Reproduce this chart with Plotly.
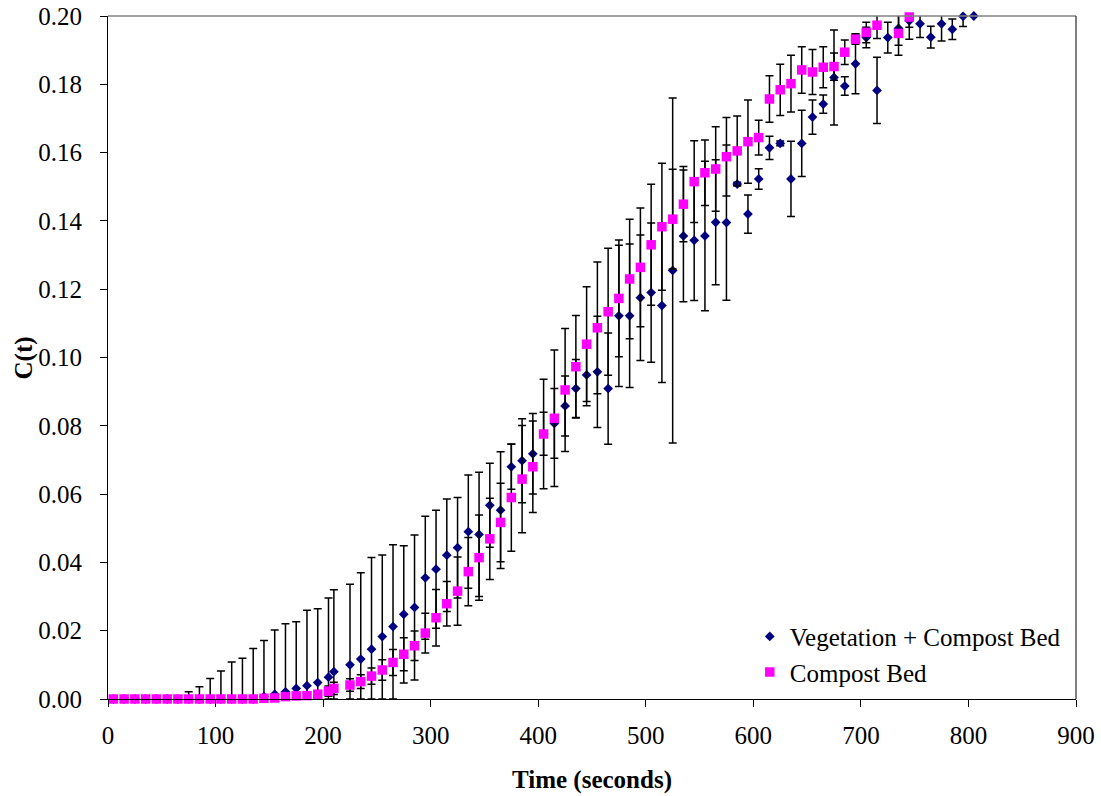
import plotly.graph_objects as go

# ---------------- data ----------------
time_s = [5, 15, 25, 35, 45, 55, 65, 75, 85, 95, 105, 115, 125, 135, 145, 155, 165, 175, 185, 195,
          205, 210, 225, 235, 245, 255, 265, 275, 285, 295, 305, 315, 325, 335, 345, 355, 365, 375,
          385, 395, 405, 415, 425, 435, 445, 455, 465, 475, 485, 495, 505, 515, 525, 535, 545, 555,
          565, 575, 585, 595, 605, 615, 625, 635, 645, 655, 665, 675, 685, 695, 705, 715, 725, 735,
          745, 755, 765, 775, 785, 795, 805]

veg_c = [0, 0, 0, 0, 0, 0, 0, 0, 0, 0, 0, 0, 0, 0, 0.0007, 0.0014, 0.0021, 0.0031, 0.0039, 0.0048,
         0.0064, 0.0080, 0.0100, 0.0117, 0.0146, 0.0183, 0.0212, 0.0248, 0.0268, 0.0355, 0.0380,
         0.0421, 0.0443, 0.0490, 0.0482, 0.0567, 0.0553, 0.0680, 0.0698, 0.0718, 0.0777, 0.0807,
         0.0858, 0.0909, 0.0949, 0.0958, 0.0909, 0.1122, 0.1122, 0.1175, 0.1190, 0.1152, 0.1255,
         0.1356, 0.1343, 0.1356, 0.1396, 0.1395, 0.1508, 0.1420, 0.1523, 0.1614, 0.1627, 0.1523,
         0.1627, 0.1704, 0.1742, 0.1820, 0.1795, 0.1860, 0.1937, 0.1782, 0.1937, 0.1964, 0.1986,
         0.1977, 0.1938, 0.1977, 0.1961, 0.1999, 0.2000]

veg_err = [0, 0, 0, 0, 0, 0, 0, 0.0021, 0.0036, 0.0060, 0.0082, 0.0108, 0.0119, 0.0148, 0.0164,
           0.0188, 0.0199, 0.0195, 0.0221, 0.0216, 0.0232, 0.0240, 0.0236, 0.0253, 0.0268, 0.0239,
           0.0240, 0.0201, 0.0212, 0.0180, 0.0173, 0.0165, 0.0147, 0.0166, 0.0182, 0.0123, 0.0171,
           0.0066, 0.0123, 0.0118, 0.0063, 0.0102, 0.0088, 0.0085, 0.0090, 0.0163, 0.0163, 0.0207,
           0.0210, 0.0184, 0.0204, 0.0225, 0.0505, 0.0193, 0.0176, 0.0219, 0.0183, 0.0227, 0.0005,
           0.0056, 0.0030, 0.0034, 0.0007, 0.0110, 0.0097, 0.0050, 0.0027, 0.0139, 0.0027, 0.0088,
           0.0030, 0.0097, 0.0045, 0.0050, 0.0054, 0.0040, 0.0032, 0.0050, 0.0030, 0.0030, 0]

compost_c = [0, 0, 0, 0, 0, 0, 0, 0, 0, 0, 0, 0, 0, 0, 0.0002, 0.0003, 0.0007, 0.0009, 0.0010,
             0.0014, 0.0023, 0.0031, 0.0041, 0.0051, 0.0067, 0.0085, 0.0107, 0.0131, 0.0156, 0.0193,
             0.0238, 0.0279, 0.0316, 0.0373, 0.0414, 0.0469, 0.0517, 0.0590, 0.0644, 0.0680, 0.0776,
             0.0822, 0.0905, 0.0973, 0.1039, 0.1087, 0.1134, 0.1173, 0.1230, 0.1264, 0.1330, 0.1383,
             0.1405, 0.1449, 0.1515, 0.1541, 0.1552, 0.1588, 0.1605, 0.1632, 0.1644, 0.1757, 0.1784,
             0.1802, 0.1842, 0.1836, 0.1850, 0.1852, 0.1894, 0.1932, 0.1952, 0.1973, None, 0.1949,
             0.1997, None, None, None, None, None, None]

compost_err = [0, 0, 0, 0, 0, 0, 0, 0, 0, 0, 0, 0, 0, 0, 0.0003, 0.0004, 0.0005, 0.0006, 0.0008,
               0.0010, 0.0015, 0.0018, 0.0018, 0.0020, 0.0024, 0.0030, 0.0038, 0.0048, 0.0043,
               0.0058, 0.0083, 0.0065, 0.0100, 0.0100, 0.0125, 0.0119, 0.0115, 0.0157, 0.0157,
               0.0134, 0.0160, 0.0200, 0.0180, 0.0150, 0.0168, 0.0193, 0.0186, 0.0171, 0.0175,
               0.0174, 0.0177, 0.0186, 0.0146, 0.0110, 0.0120, 0.0096, 0.0124, 0.0115, 0.0102,
               0.0122, 0.0051, 0.0068, 0.0075, 0.0083, 0.0068, 0.0066, 0.0060, 0.0040, 0.0036,
               0.0015, 0.0030, 0.0039, None, 0.0064, 0.0030, None, None, None, None, None, None]

x_ticks = [0, 100, 200, 300, 400, 500, 600, 700, 800, 900]
y_ticks = [0.00, 0.02, 0.04, 0.06, 0.08, 0.10, 0.12, 0.14, 0.16, 0.18, 0.20]


def lower(vals, errs):
    # error bars are cut at the x axis, as in the original chart
    out = []
    for v, e in zip(vals, errs):
        if v is None or e is None:
            out.append(None)
        else:
            out.append(min(e, v))
    return out


FONT = "Times New Roman, Liberation Serif, DejaVu Serif, serif"
FS = 25

fig = go.Figure()
fig.add_trace(go.Scatter(
    x=time_s, y=veg_c, mode="markers", name="Vegetation + Compost Bed",
    legendgroup="a",
    marker=dict(symbol="diamond", size=7.5, color="#000080", line=dict(width=0)),
    error_y=dict(type="data", symmetric=False, array=veg_err,
                 arrayminus=lower(veg_c, veg_err),
                 color="black", thickness=1.5, width=4),
    cliponaxis=False,
))
fig.add_trace(go.Scatter(
    x=time_s, y=compost_c, mode="markers", name="Compost Bed",
    legendgroup="b",
    marker=dict(symbol="square", size=9.5, color="#FF00FF", line=dict(width=0)),
    error_y=dict(type="data", symmetric=False, array=compost_err,
                 arrayminus=lower(compost_c, compost_err),
                 color="black", thickness=1.5, width=4),
    cliponaxis=False,
))

fig.update_layout(
    width=1101, height=796,
    margin=dict(l=108, r=25, t=16, b=97, autoexpand=False),
    paper_bgcolor="white", plot_bgcolor="white",
    font=dict(family=FONT, size=FS, color="black"),
    showlegend=True,
    legend=dict(x=0.663, y=0.125, xanchor="left", yanchor="top",
                bgcolor="rgba(0,0,0,0)", borderwidth=0,
                font=dict(family=FONT, size=FS, color="black"),
                traceorder="grouped", tracegroupgap=0),
    xaxis=dict(range=[0, 900], tickvals=x_ticks, ticktext=[str(v) for v in x_ticks],
               ticks="outside", ticklen=7, tickwidth=1, tickcolor="black",
               ticklabelstandoff=7, ticklabeloverflow="allow",
               showline=True, linecolor="black", linewidth=1,
               showgrid=False, zeroline=False, automargin=False,
               title=dict(text="<b>Time (seconds)</b>", font=dict(family=FONT, size=FS),
                          standoff=22)),
    yaxis=dict(range=[0, 0.2], tickvals=y_ticks, ticktext=["%.2f" % v for v in y_ticks],
               ticks="outside", ticklen=7, tickwidth=1, tickcolor="black",
               ticklabelstandoff=13, ticklabeloverflow="allow",
               showline=True, linecolor="black", linewidth=1,
               showgrid=False, zeroline=False, automargin=False),
    annotations=[
        dict(text="<b>C(t)</b>", textangle=-90, xref="paper", yref="paper",
             x=-0.0868, y=0.5, xanchor="center", yanchor="middle", showarrow=False,
             font=dict(family=FONT, size=FS, color="black")),
    ],
    shapes=[
        dict(type="line", xref="paper", yref="paper", x0=0, x1=1, y0=1, y1=1,
             line=dict(color="#808080", width=1.5)),
        dict(type="line", xref="paper", yref="paper", x0=1, x1=1, y0=0, y1=1,
             line=dict(color="black", width=1)),
    ],
)

# remove the browser's default 8 px page margin so the figure fills the window exactly
fig.write_html("out.html", config={"displayModeBar": False},
               post_script="document.body.style.margin='0';")
